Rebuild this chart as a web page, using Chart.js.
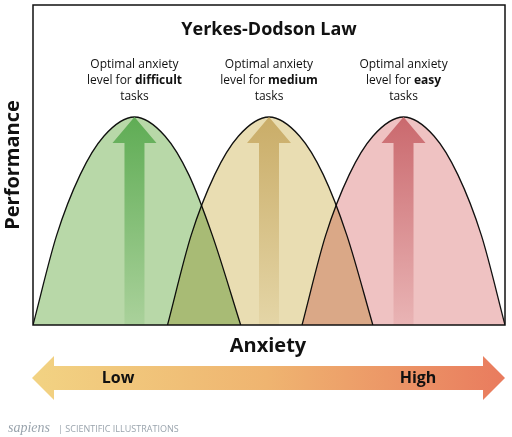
<!DOCTYPE html>
<html><head><meta charset="utf-8">
<script src="https://cdn.jsdelivr.net/npm/chart.js@4"></script>
<style>body{margin:0;background:#fff}#w{width:512px;height:437px;position:relative}</style>
</head><body><div id="w"><canvas id="c" width="512" height="437"></canvas></div>
<script>
const title = "Yerkes-Dodson Law";
const xLabel = "Anxiety";
const yLabel = "Performance";
const arrowLabels = ["Low", "High"];
const levels = ["difficult", "medium", "easy"];
const greenX = [0, 5, 10, 15, 21.5, 28, 33, 38, 44];
const tanX = [28.5, 33.5, 38.5, 43.5, 50, 56.5, 61.5, 66.5, 72];
const redX = [57, 62, 67, 72, 78.5, 85, 90, 95, 100];
const perf = [0, 28, 47, 59, 65, 59, 47, 28, 0];
const fills = ["#b8d8a8", "#e9ddb2", "#efc2c2"];
const arrows = ["90,170,80", "200,170,100", "200,100,105"];
const peaks = [4, 4, 4];
const mk = (xs, i) => ({data: xs.map((x, k) => ({x, y: perf[k]})), showLine: true, fill: 'origin',
  backgroundColor: fills[i], borderColor: '#111', borderWidth: 1.3, pointRadius: 0, tension: 0.4, cubicInterpolationMode: 'monotone'});
const sets = [mk(greenX,0), mk(tanX,1), mk(redX,2)];
const plug = {id: 'p',
 beforeDatasetsDraw(ch) { ch.ctx.save(); ch.ctx.globalCompositeOperation = 'multiply'; },
 afterDatasetsDraw(ch) {
  const c = ch.ctx, a = ch.chartArea, xs = ch.scales.x, ys = ch.scales.y;
  c.restore();
  const base = ys.getPixelForValue(0);
  sets.forEach((s, i) => {
    const pt = s.data[peaks[i]];
    const px = xs.getPixelForValue(pt.x), py = ys.getPixelForValue(pt.y);
    const g = c.createLinearGradient(0, base, 0, py);
    g.addColorStop(0, `rgba(${arrows[i]},0.15)`); g.addColorStop(1, `rgba(${arrows[i]},0.95)`);
    c.fillStyle = g; c.beginPath();
    c.moveTo(px - 10, base); c.lineTo(px - 10, py + 26); c.lineTo(px - 22, py + 26); c.lineTo(px, py);
    c.lineTo(px + 22, py + 26); c.lineTo(px + 10, py + 26); c.lineTo(px + 10, base); c.closePath(); c.fill();
    c.fillStyle = '#111'; c.textAlign = 'center'; c.textBaseline = 'middle';
    c.font = '12px "Open Sans"';
    c.fillText('Optimal anxiety', px, 65);
    const t1 = 'level for ', t2 = levels[i];
    c.font = '12px "Open Sans"'; const w1 = c.measureText(t1).width;
    c.font = 'bold 12px "Open Sans"'; const w2 = c.measureText(t2).width;
    let sx = px - (w1 + w2) / 2; c.textAlign = 'left';
    c.font = '12px "Open Sans"'; c.fillText(t1, sx, 81);
    c.font = 'bold 12px "Open Sans"'; c.fillText(t2, sx + w1, 81);
    c.textAlign = 'center'; c.font = '12px "Open Sans"'; c.fillText('tasks', px, 97);
  });
  c.strokeStyle = '#111'; c.lineWidth = 1.5; c.strokeRect(a.left, a.top, a.right - a.left, a.bottom - a.top);
  c.fillStyle = '#111'; c.textAlign = 'center'; c.textBaseline = 'middle';
  c.font = 'bold 18px "Open Sans"'; c.fillText(title, (a.left + a.right) / 2, 30);
  c.font = 'bold 20px "Open Sans"'; c.fillText(xLabel, 268, 346);
  c.save(); c.translate(13, 165); c.rotate(-Math.PI / 2); c.fillText(yLabel, 0, 0); c.restore();
  const g = c.createLinearGradient(30, 0, 505, 0);
  g.addColorStop(0, '#f2d383'); g.addColorStop(0.5, '#efb470'); g.addColorStop(1, '#e97b5e');
  c.fillStyle = g; c.beginPath();
  c.moveTo(32, 378); c.lineTo(54, 356); c.lineTo(54, 366); c.lineTo(483, 366); c.lineTo(483, 356);
  c.lineTo(505, 378); c.lineTo(483, 400); c.lineTo(483, 390); c.lineTo(54, 390); c.lineTo(54, 400); c.closePath(); c.fill();
  c.fillStyle = '#111'; c.font = 'bold 16px "Open Sans"';
  c.fillText(arrowLabels[0], 118, 378); c.fillText(arrowLabels[1], 418, 378);
  c.textAlign = 'left'; c.fillStyle = '#9aa4ad';
  c.font = 'italic 14px "Liberation Serif"'; c.fillText('sapiens', 8, 428);
  c.font = '9px "Open Sans"'; c.fillText('| SCIENTIFIC ILLUSTRATIONS', 58, 429);
}};
new Chart(document.getElementById('c'), {type: 'scatter', data: {datasets: sets}, plugins: [plug],
  options: {responsive: false, animation: false, layout: {padding: {left: 33, right: 7, top: 5, bottom: 112}},
    plugins: {legend: {display: false}, tooltip: {enabled: false}},
    scales: {x: {display: false, min: 0, max: 100}, y: {display: false, min: 0, max: 100}}}});
</script></body></html>
